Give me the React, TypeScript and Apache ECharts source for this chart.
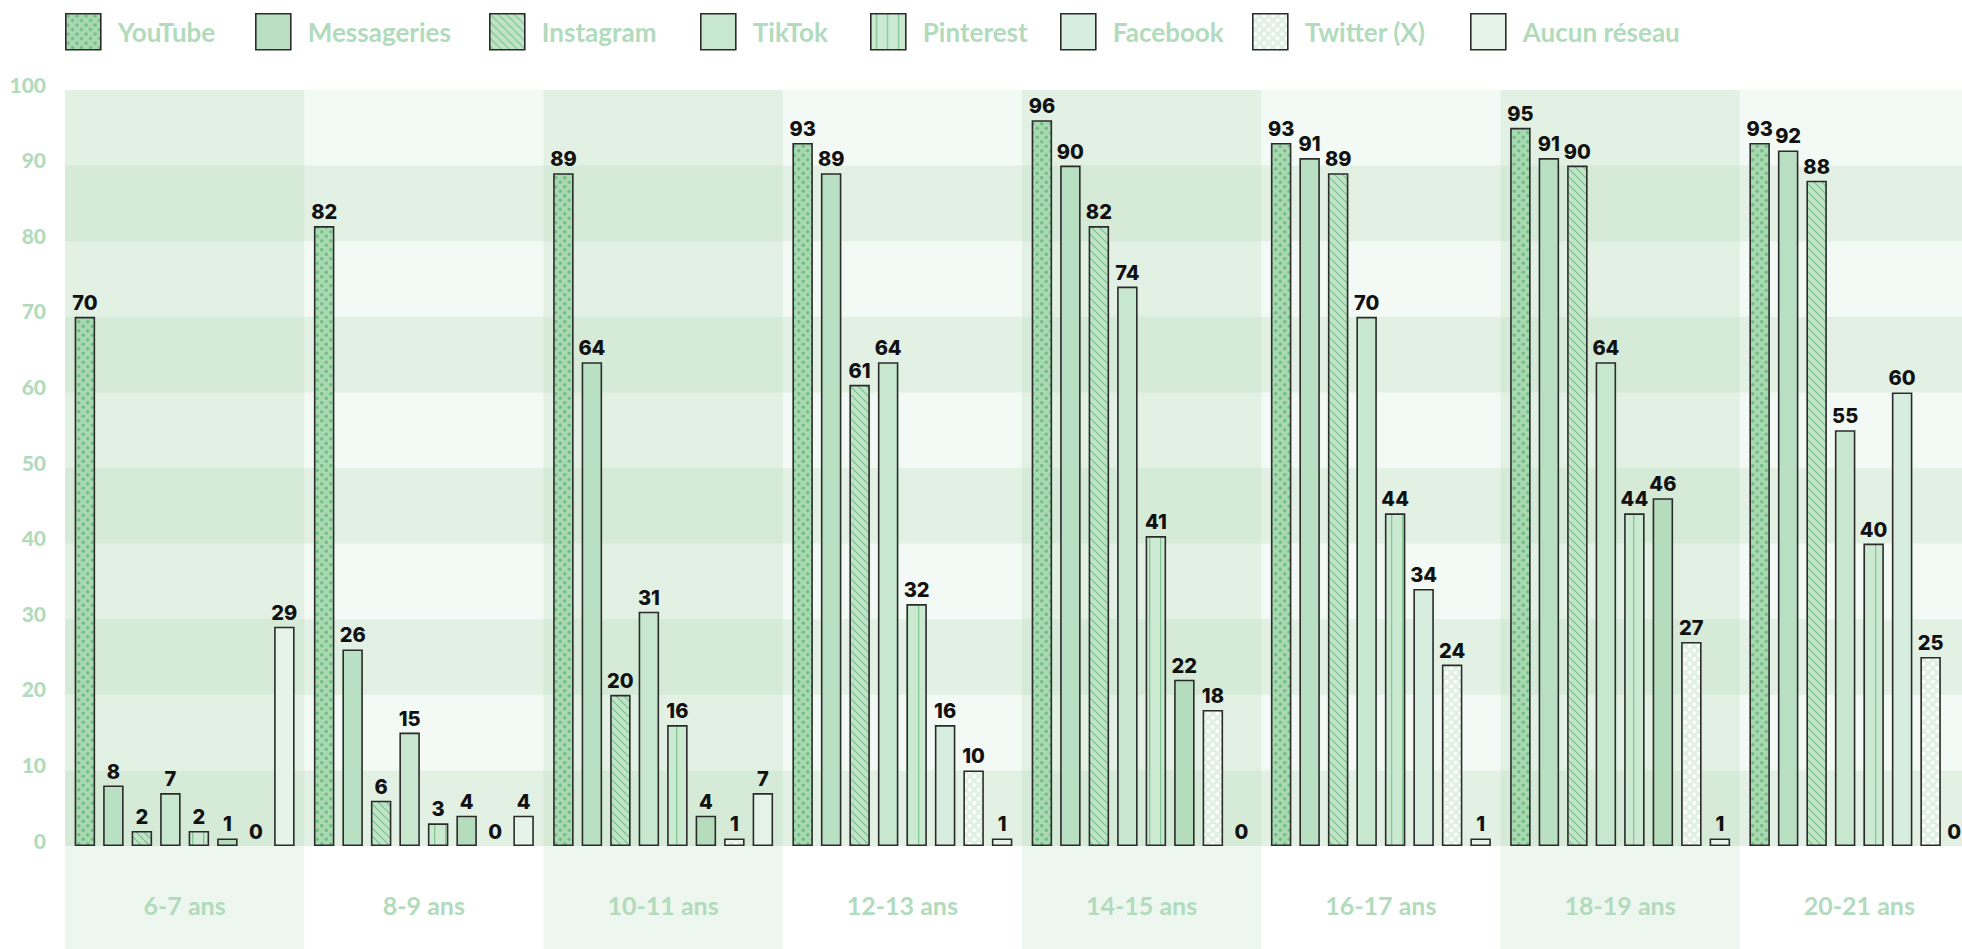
import React, { useEffect, useRef } from "react";
import * as echarts from "echarts";

const categories = ["6-7 ans", "8-9 ans", "10-11 ans", "12-13 ans", "14-15 ans", "16-17 ans", "18-19 ans", "20-21 ans"];
const networks = ["YouTube", "Messageries", "Instagram", "TikTok", "Pinterest", "Facebook", "Twitter (X)", "Aucun réseau"];

const youtube = [70, 82, 89, 93, 96, 93, 95, 93];
const messageries = [8, 26, 64, 89, 90, 91, 91, 92];
const instagram = [2, 6, 20, 61, 82, 89, 90, 88];
const tiktok = [7, 15, 31, 64, 74, 70, 64, 55];
const pinterest = [2, 3, 16, 32, 41, 44, 44, 40];
const facebook = [1, 4, 4, 16, 22, 34, 46, 60];
const twitter = [0, 0, 1, 10, 18, 24, 27, 25];
const aucun = [29, 4, 7, 1, 0, 1, 1, 0];

const seriesValues = [youtube, messageries, instagram, tiktok, pinterest, facebook, twitter, aucun];

// style only: groups whose Facebook bar is drawn in a darker green
const facebookDarkGroups = [0, 1, 2, 4, 6];

const legendLeft = [65, 255, 489, 700, 870, 1060, 1252, 1470];

const TEXT_GREEN = "#b1dbbc";
const BORDER = "#2b2b2b";

function tile(w: number, h: number, bg: string, draw: (ctx: CanvasRenderingContext2D) => void) {
  const c = document.createElement("canvas");
  c.width = w;
  c.height = h;
  const ctx = c.getContext("2d")!;
  ctx.fillStyle = bg;
  ctx.fillRect(0, 0, w, h);
  draw(ctx);
  return { image: c.toDataURL(), repeat: "repeat", imageWidth: w, imageHeight: h } as any;
}

function dots(bg: string, dot: string, r: number, s: number) {
  return tile(s * 2, s * 2, bg, (ctx) => {
    ctx.fillStyle = dot;
    const pts = [
      [s / 2, s / 2],
      [s * 1.5, s * 1.5],
    ];
    for (const [x, y] of pts) {
      ctx.beginPath();
      ctx.arc(x, y, r, 0, Math.PI * 2);
      ctx.fill();
    }
  });
}

function diag(bg: string, line: string, s: number) {
  return tile(s, s, bg, (ctx) => {
    ctx.strokeStyle = line;
    ctx.lineWidth = 1.3;
    for (const off of [-s, 0, s]) {
      ctx.beginPath();
      ctx.moveTo(off, 0);
      ctx.lineTo(off + s, s);
      ctx.stroke();
    }
  });
}

function vlines(bg: string, line: string, s: number) {
  return tile(s, 4, bg, (ctx) => {
    ctx.fillStyle = line;
    ctx.fillRect(Math.floor(s / 2), 0, 1.3, 4);
  });
}

export default function App() {
  const ref = useRef<HTMLDivElement>(null);

  useEffect(() => {
    document.body.style.margin = "0";
    document.body.style.overflow = "hidden";
    const chart = echarts.init(ref.current!, null, { renderer: "svg" });

    const fills = [
      dots("#a9d8b2", "#6fbf81", 1.7, 4.5),
      "#b9e0c2",
      diag("#c1e4c8", "#80c691", 8),
      "#c7e7ce",
      vlines("#cce9d2", "#84c894", 11),
      "#d6ede0",
      dots("#e0f0e2", "#ffffff", 1.9, 4.5),
      "#e6f3e8",
    ];

    const labelStyle = {
      show: true,
      position: "top",
      distance: 4,
      color: "#111",
      fontFamily: "Inter",
      fontWeight: 800,
      fontSize: 20,
    };

    const lastGroup = categories.length - 1;

    const series = networks.map((name, i) => ({
      name,
      type: "bar",
      xAxisIndex: 0,
      yAxisIndex: 0,
      barWidth: 20.5,
      barGap: "39%",
      itemStyle: { color: fills[i], borderColor: BORDER, borderWidth: 1.6 },
      label: labelStyle,
      data: seriesValues[i].map((v, g) => {
        if (v === 0) {
          const item: any = { value: v, itemStyle: { color: "transparent", borderWidth: 0 } };
          if (g === lastGroup && i === networks.length - 1) item.label = { offset: [-5, 0] };
          return item;
        }
        if (i === 5 && facebookDarkGroups.includes(g)) return { value: v, itemStyle: { color: "#b5dcbd" } };
        return v;
      }),
    }));

    const legends = networks.map((name, i) => ({
      data: [name],
      left: legendLeft[i],
      top: 13,
      padding: 0,
      icon: "rect",
      itemWidth: 35,
      itemHeight: 36,
      selectedMode: false,
      itemStyle: { borderColor: BORDER, borderWidth: 1.6 },
      textStyle: {
        color: TEXT_GREEN,
        fontFamily: "Lato",
        fontWeight: "bold",
        fontSize: 26,
        padding: [9, 0, 0, 12],
      },
    }));

    chart.setOption({
      animation: false,
      backgroundColor: "#ffffff",
      legend: legends,
      grid: [
        { left: 65, top: 90, width: 1914, height: 756 },
        { left: 65, top: 846, width: 1914, height: 103 },
      ],
      xAxis: [
        {
          type: "category",
          gridIndex: 0,
          data: categories,
          axisLine: { show: false },
          axisTick: { show: false },
          axisLabel: {
            color: TEXT_GREEN,
            fontFamily: "Lato",
            fontWeight: "bold",
            fontSize: 25,
            margin: 59,
            verticalAlign: "middle",
          },
          splitLine: { show: false },
          splitArea: {
            show: true,
            areaStyle: { color: ["rgba(100,180,110,0.11)", "rgba(255,255,255,0)"] },
          },
        },
        {
          type: "category",
          gridIndex: 1,
          data: categories,
          axisLine: { show: false },
          axisTick: { show: false },
          axisLabel: { show: false },
          splitLine: { show: false },
          splitArea: {
            show: true,
            areaStyle: { color: ["rgba(100,180,110,0.11)", "rgba(255,255,255,0)"] },
          },
        },
      ],
      yAxis: [
        {
          type: "value",
          gridIndex: 0,
          min: 0,
          max: 100,
          interval: 10,
          axisLine: { show: false },
          axisTick: { show: false },
          splitLine: { show: false },
          axisLabel: {
            color: TEXT_GREEN,
            fontFamily: "Lato",
            fontWeight: 900,
            fontSize: 21,
            margin: 19,
            verticalAlign: "bottom",
            lineHeight: 12,
          },
          splitArea: {
            show: true,
            areaStyle: { color: ["rgba(100,180,110,0.18)", "rgba(100,180,110,0.077)"] },
          },
        },
        {
          type: "value",
          gridIndex: 1,
          min: 0,
          max: 1,
          show: false,
          splitLine: { show: false },
        },
      ],
      series,
    });

    return () => chart.dispose();
  }, []);

  return <div ref={ref} style={{ width: 1980, height: 949 }} />;
}
